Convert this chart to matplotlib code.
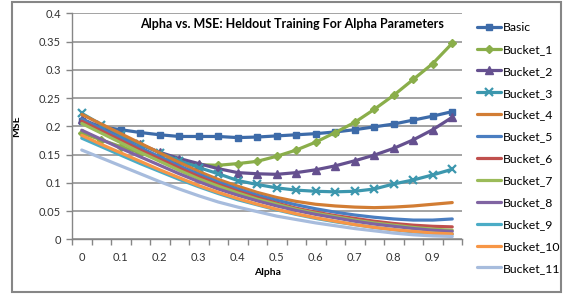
import matplotlib
matplotlib.use("Agg")
import matplotlib.pyplot as plt
from matplotlib.patches import Rectangle
import numpy as np

plt.rcParams['font.family'] = ['Lato', 'DejaVu Sans']

alpha = ["0", "0.05", "0.1", "0.15", "0.2", "0.25", "0.3", "0.35", "0.4", "0.45",
         "0.5", "0.55", "0.6", "0.65", "0.7", "0.75", "0.8", "0.85", "0.9", "0.95"]

basic    = [0.209, 0.199, 0.194, 0.189, 0.185, 0.182, 0.182, 0.182, 0.180, 0.181,
            0.183, 0.185, 0.187, 0.190, 0.194, 0.199, 0.204, 0.211, 0.218, 0.226]
bucket_1 = [0.188, 0.176, 0.164, 0.153, 0.144, 0.137, 0.132, 0.131, 0.134, 0.138,
            0.147, 0.158, 0.172, 0.189, 0.207, 0.230, 0.255, 0.283, 0.311, 0.347]
bucket_2 = [0.213, 0.198, 0.183, 0.168, 0.154, 0.143, 0.134, 0.125, 0.118, 0.116,
            0.115, 0.118, 0.123, 0.130, 0.139, 0.149, 0.161, 0.176, 0.194, 0.216]
bucket_3 = [0.223, 0.203, 0.185, 0.168, 0.153, 0.139, 0.127, 0.116, 0.104, 0.097,
            0.091, 0.087, 0.085, 0.084, 0.085, 0.089, 0.098, 0.105, 0.114, 0.124]
bucket_4 = [0.221, 0.204, 0.187, 0.170, 0.153, 0.136, 0.120, 0.106, 0.094, 0.083,
            0.074, 0.067, 0.062, 0.059, 0.057, 0.056, 0.057, 0.059, 0.062, 0.065]
bucket_5 = [0.213, 0.196, 0.179, 0.162, 0.146, 0.130, 0.115, 0.101, 0.089, 0.078,
            0.069, 0.061, 0.054, 0.048, 0.043, 0.039, 0.036, 0.034, 0.034, 0.036]
bucket_6 = [0.209, 0.192, 0.175, 0.158, 0.142, 0.126, 0.111, 0.097, 0.085, 0.074,
            0.064, 0.055, 0.048, 0.042, 0.037, 0.032, 0.028, 0.025, 0.023, 0.022]
bucket_7 = [0.205, 0.188, 0.171, 0.154, 0.138, 0.122, 0.107, 0.094, 0.082, 0.071,
            0.062, 0.053, 0.046, 0.040, 0.034, 0.029, 0.025, 0.021, 0.018, 0.016]
bucket_8 = [0.193, 0.177, 0.161, 0.146, 0.131, 0.116, 0.102, 0.089, 0.078, 0.068,
            0.059, 0.051, 0.044, 0.038, 0.032, 0.027, 0.023, 0.019, 0.016, 0.014]
bucket_9 = [0.179, 0.164, 0.149, 0.134, 0.120, 0.106, 0.093, 0.081, 0.070, 0.061,
            0.052, 0.044, 0.037, 0.031, 0.026, 0.021, 0.017, 0.013, 0.011, 0.009]
bucket_10 = [0.184, 0.168, 0.153, 0.138, 0.123, 0.109, 0.095, 0.083, 0.072, 0.062,
             0.053, 0.045, 0.038, 0.032, 0.026, 0.021, 0.017, 0.014, 0.011, 0.0095]
bucket_11 = [0.158, 0.144, 0.130, 0.116, 0.102, 0.089, 0.077, 0.066, 0.057, 0.049,
             0.041, 0.035, 0.029, 0.024, 0.019, 0.015, 0.011, 0.008, 0.006, 0.005]

series_names = ["Basic", "Bucket_1", "Bucket_2", "Bucket_3", "Bucket_4", "Bucket_5",
                "Bucket_6", "Bucket_7", "Bucket_8", "Bucket_9", "Bucket_10", "Bucket_11"]
series_values = [basic, bucket_1, bucket_2, bucket_3, bucket_4, bucket_5,
                 bucket_6, bucket_7, bucket_8, bucket_9, bucket_10, bucket_11]
colors = ['#3D6BA9', '#8AAE4A', '#65508F', '#3C97AE', '#D27D34', '#4A7EC1',
          '#C0504D', '#9BBB59', '#8064A2', '#4BACC6', '#F79646', '#A7BCDD']
markers = ['s', 'D', '^', 'x', None, None, None, None, None, None, None, None]
msizes = [5, 4.2, 6, 6, 0, 0, 0, 0, 0, 0, 0, 0]

x_labels = ["0", "0.1", "0.2", "0.3", "0.4", "0.5", "0.6", "0.7", "0.8", "0.9"]
y_ticks = [0, 0.05, 0.1, 0.15, 0.2, 0.25, 0.3, 0.35, 0.4]
y_labels = ["0", "0.05", "0.1", "0.15", "0.2", "0.25", "0.3", "0.35", "0.4"]

W, H = 563, 295
fig = plt.figure(figsize=(W / 100, H / 100), dpi=100)
ax = fig.add_axes([72 / W, 1 - 239.3 / H, (462 - 72) / W, (239.3 - 13.3) / H])

xpos = np.arange(len(alpha))
for name, vals, c, m, ms in zip(series_names, series_values, colors, markers, msizes):
    kw = dict(color=c, lw=2.3, label=name, solid_capstyle='round', solid_joinstyle='round')
    if m is not None:
        kw.update(marker=m, markersize=ms, markerfacecolor=c, markeredgecolor=c,
                  markeredgewidth=1.6 if m == 'x' else 1.0)
    ax.plot(xpos, vals, **kw)

ax.set_xlim(-0.5, len(alpha) - 0.5)
ax.set_ylim(0, 0.4)
ax.set_yticks(y_ticks)
ax.set_yticklabels(y_labels)
ax.set_xticks(np.arange(-0.5, len(alpha), 1.0))
ax.set_xticklabels([])
label_pos = [alpha.index(l) for l in x_labels]
ax.set_xticks(label_pos, minor=True)
ax.set_xticklabels(x_labels, minor=True)
ax.tick_params(axis='x', which='minor', length=0, pad=9, labelsize=8, colors='#333333')
ax.tick_params(axis='x', which='major', length=4, width=1, color='#868686', direction='out')
ax.tick_params(axis='y', length=4, width=1, color='#868686', labelsize=8,
               labelcolor='#333333', pad=4)
ax.grid(axis='y', color='#8a8a8a', lw=1.1)
ax.set_axisbelow(True)
for s in ['top', 'right']:
    ax.spines[s].set_visible(False)
for s in ['left', 'bottom']:
    ax.spines[s].set_color('#868686')
    ax.spines[s].set_linewidth(1.0)

ax.text(0.563, 0.952, "Alpha vs. MSE: Heldout Training For Alpha Parameters",
        transform=ax.transAxes, ha='center', va='center', fontsize=9, fontweight='bold')
ax.set_xlabel("Alpha", fontsize=7.5, fontweight='bold', labelpad=4)
ax.set_ylabel("MSE", fontsize=7.5, fontweight='bold', labelpad=13)

leg = ax.legend(loc='upper left', bbox_to_anchor=(477 / W, 1 - 22 / H),
                bbox_transform=fig.transFigure, frameon=False, fontsize=8.8,
                handlelength=2.0, handletextpad=0.12, labelspacing=0.89,
                borderaxespad=0, borderpad=0, markerscale=1.0)

fig.patches.append(Rectangle((12 / W, 1 - 292 / H), (561 - 12) / W, 290 / H,
                             transform=fig.transFigure, fill=False,
                             edgecolor='#868686', lw=1.5))

fig.savefig("out.png", dpi=100)
